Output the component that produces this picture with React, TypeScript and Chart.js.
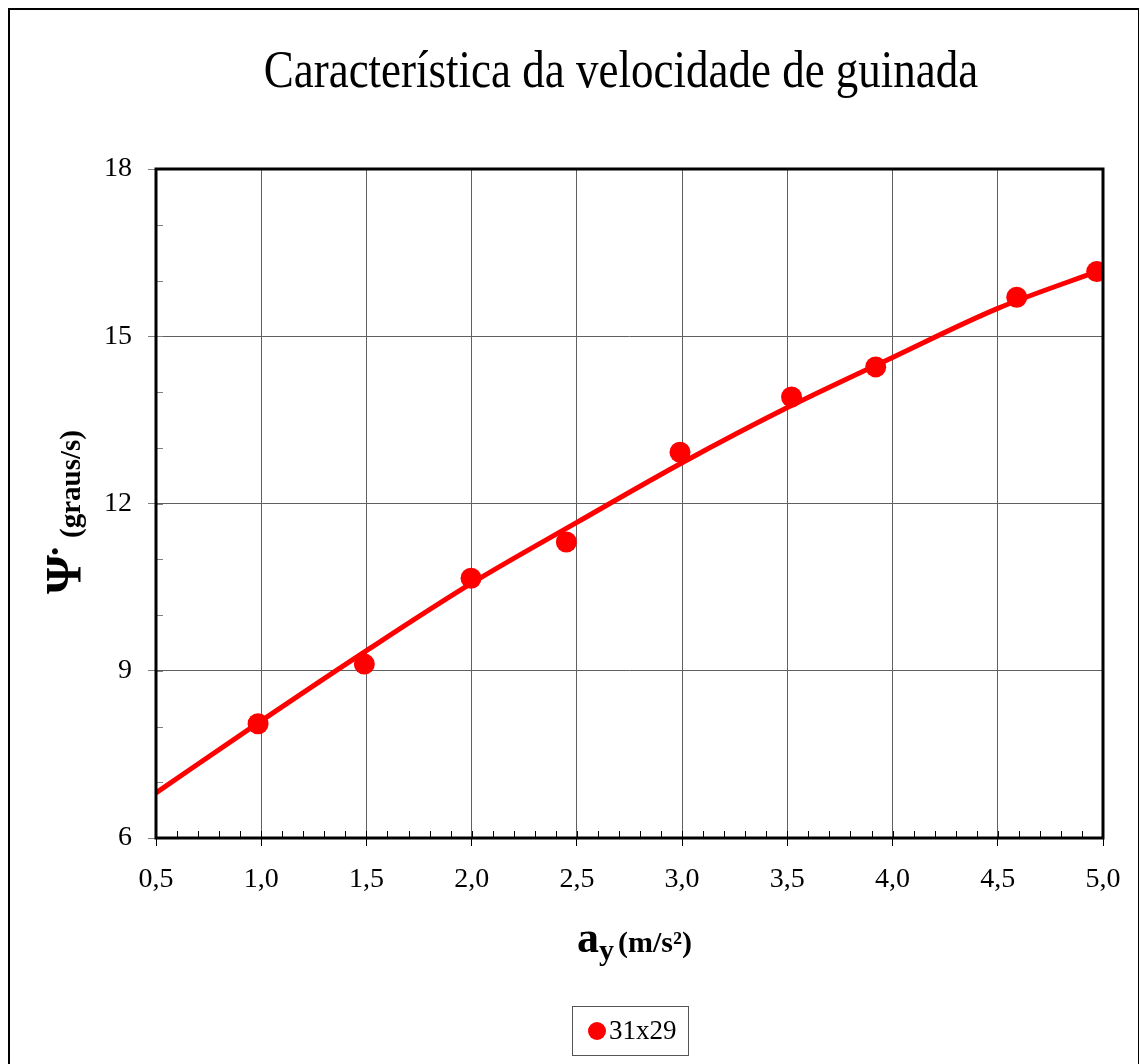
import React, { useEffect, useRef } from "react";
import { Chart, registerables } from "chart.js";

Chart.register(...registerables);

// Chart text
const chartTitle = "Característica da velocidade de guinada";
const seriesLabel = "31x29";
const yTitleSymbol = "Ψ";
const yTitleDot = "˙";
const yTitleUnit = "(graus/s)";
const xTitleSymbol = "a";
const xTitleSub = "y";
const xTitleUnit = "(m/s²)";

// Measured points: lateral acceleration (m/s²) vs. yaw rate (deg/s)
const ayValues = [0.985, 1.49, 1.997, 2.45, 2.99, 3.52, 3.92, 4.59, 4.97];
const yawRateValues = [8.05, 9.12, 10.66, 11.31, 12.92, 13.91, 14.45, 15.7, 16.16];

// Trend curve through the measurements
const trendAy = [0.5, 1.0, 1.5, 2.0, 2.5, 3.0, 3.5, 4.0, 4.5, 5.0];
const trendYawRate = [6.81, 8.1, 9.36, 10.57, 11.66, 12.73, 13.72, 14.62, 15.5, 16.2];

// Axis ranges
const xMin = 0.5;
const xMax = 5.0;
const xStep = 0.5;
const xMinorStep = 0.1;
const yMin = 6;
const yMax = 18;
const yStep = 3;
const yMinorStep = 1;

const CANVAS_W = 1128;
const CANVAS_H = 1054;
const SERIF = "'Liberation Serif', 'Times New Roman', serif";
const RED = "#ff0000";

const decorations = {
  id: "decorations",
  afterDraw(chart: any) {
    const { ctx, chartArea, scales } = chart;
    const xs = scales.x;
    const ys = scales.y;
    const { left, right, top, bottom } = chartArea;

    ctx.save();

    // minor ticks along the bottom axis (pointing inward)
    ctx.strokeStyle = "#000";
    ctx.lineWidth = 1;
    ctx.beginPath();
    for (let v = xMin; v <= xMax + 1e-9; v += xMinorStep) {
      const px = Math.round(xs.getPixelForValue(v)) + 0.5;
      ctx.moveTo(px, bottom);
      ctx.lineTo(px, bottom - 7);
    }
    ctx.stroke();

    // minor ticks along the left axis
    ctx.strokeStyle = "#808080";
    ctx.beginPath();
    for (let v = yMin; v <= yMax + 1e-9; v += yMinorStep) {
      const py = Math.round(ys.getPixelForValue(v)) + 0.5;
      ctx.moveTo(left, py);
      ctx.lineTo(left + 7, py);
    }
    ctx.stroke();

    // plot frame
    ctx.strokeStyle = "#000";
    ctx.lineWidth = 3;
    ctx.strokeRect(left, top, right - left, bottom - top);

    // title (slightly tall lettering)
    ctx.fillStyle = "#000";
    ctx.textAlign = "center";
    ctx.textBaseline = "alphabetic";
    ctx.font = `45px ${SERIF}`;
    ctx.save();
    ctx.translate(611, 77);
    ctx.scale(1, 1.15);
    ctx.fillText(chartTitle, 0, 0);
    ctx.restore();

    // x axis title: a_y (m/s²)
    ctx.textAlign = "left";
    ctx.font = `bold 44px ${SERIF}`;
    ctx.fillText(xTitleSymbol, 567, 942);
    ctx.font = `bold 30px ${SERIF}`;
    ctx.fillText(xTitleSub, 589, 950);
    ctx.font = `bold 30px ${SERIF}`;
    ctx.fillText(xTitleUnit, 608, 942);

    // y axis title: Ψ˙ (graus/s), rotated
    ctx.save();
    ctx.translate(70, 584);
    ctx.rotate(-Math.PI / 2);
    ctx.font = `bold 50px ${SERIF}`;
    ctx.fillText(yTitleSymbol, 0, 0);
    ctx.font = `bold 40px ${SERIF}`;
    ctx.fillText(yTitleDot, 36, 0);
    ctx.font = `bold 29px ${SERIF}`;
    ctx.fillText(yTitleUnit, 56, 0);
    ctx.restore();

    // legend box
    const lx = 562;
    const ly = 996;
    const lw = 116;
    const lh = 49;
    ctx.strokeStyle = "#555";
    ctx.lineWidth = 1;
    ctx.strokeRect(lx + 0.5, ly + 0.5, lw, lh);
    ctx.fillStyle = RED;
    ctx.beginPath();
    ctx.arc(lx + 25, ly + 25, 9, 0, Math.PI * 2);
    ctx.fill();
    ctx.fillStyle = "#000";
    ctx.font = `27px ${SERIF}`;
    ctx.textBaseline = "middle";
    ctx.fillText(chart.data.datasets[1].label, lx + 37, ly + 26);

    ctx.restore();
  },
};

export default function App() {
  const canvasRef = useRef<HTMLCanvasElement | null>(null);

  useEffect(() => {
    const canvas = canvasRef.current;
    if (!canvas) return;

    const chart = new Chart(canvas, {
      type: "scatter",
      data: {
        datasets: [
          {
            label: "trend",
            type: "line",
            data: trendAy.map((x, i) => ({ x, y: trendYawRate[i] })),
            borderColor: RED,
            borderWidth: 5,
            pointRadius: 0,
            cubicInterpolationMode: "monotone",
            fill: false,
            order: 2,
          },
          {
            label: seriesLabel,
            data: ayValues.map((x, i) => ({ x, y: yawRateValues[i] })),
            backgroundColor: RED,
            borderColor: RED,
            pointRadius: 10.5,
            pointBorderWidth: 0,
            order: 1,
          },
        ],
      },
      options: {
        responsive: false,
        animation: false,
        devicePixelRatio: 1,
        layout: { padding: { left: 86, top: 159, right: 35, bottom: 166 } },
        plugins: {
          legend: { display: false },
          title: { display: false },
          tooltip: { enabled: false },
        },
        scales: {
          x: {
            type: "linear",
            min: xMin,
            max: xMax,
            afterFit: (s: any) => {
              s.height = 60;
              s.paddingRight = 0;
            },
            ticks: {
              stepSize: xStep,
              autoSkip: false,
              maxRotation: 0,
              padding: 17,
              color: "#000",
              font: { family: SERIF, size: 28 },
              callback: (v: any) => Number(v).toFixed(1).replace(".", ","),
            },
            grid: {
              color: "#606060",
              lineWidth: 1,
              drawTicks: true,
              tickLength: 8,
              tickColor: "#000",
            },
            border: { display: false },
          },
          y: {
            type: "linear",
            min: yMin,
            max: yMax,
            afterFit: (s: any) => {
              s.width = 60;
            },
            ticks: {
              stepSize: yStep,
              padding: 16,
              color: "#000",
              font: { family: SERIF, size: 28 },
              callback: (v: any) => String(v),
            },
            grid: {
              color: "#606060",
              lineWidth: 1,
              drawTicks: true,
              tickLength: 8,
              tickColor: "#808080",
            },
            border: { display: false },
          },
        },
      },
      plugins: [decorations],
    });

    return () => chart.destroy();
  }, []);

  return (
    <div
      style={{
        position: "fixed",
        left: 8,
        top: 8,
        width: CANVAS_W,
        height: CANVAS_H + 10,
        borderLeft: "2px solid #000",
        borderTop: "2px solid #000",
        borderRight: "1px solid #000",
        background: "#fff",
      }}
    >
      <canvas ref={canvasRef} width={CANVAS_W} height={CANVAS_H} style={{ display: "block" }} />
    </div>
  );
}
